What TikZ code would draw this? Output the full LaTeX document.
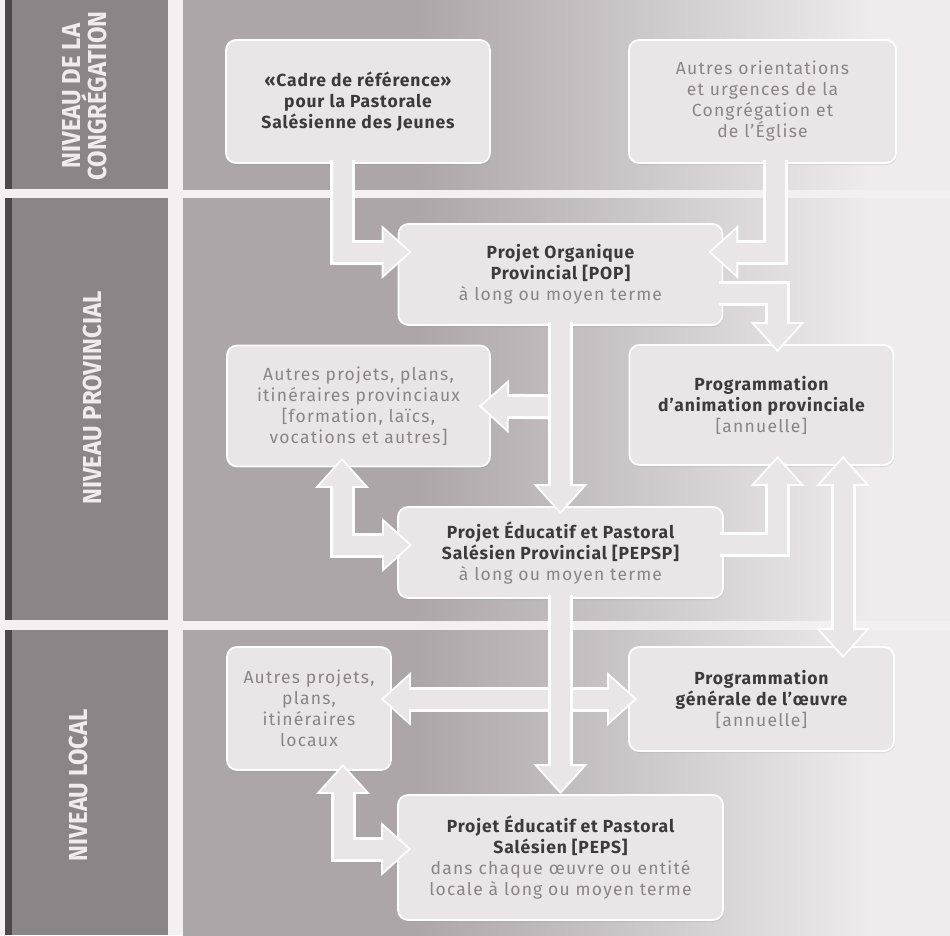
\documentclass[tikz,border=0pt]{standalone}
\usepackage{fontspec}
\setmainfont[LetterSpace=5]{Fira Sans}
\newfontfamily\sidefont[FakeStretch=0.92]{Fira Sans}
\newfontfamily\graytextfont[LetterSpace=7]{Fira Sans}
\usetikzlibrary{arrows.meta,shadows}

\definecolor{pagebg}{RGB}{244,240,241}
\definecolor{sidegray}{RGB}{139,133,135}
\definecolor{sidedark}{RGB}{78,72,74}
\definecolor{bgdark}{RGB}{172,166,168}
\definecolor{bgmid}{RGB}{205,200,201}
\definecolor{bglight}{RGB}{240,236,237}
\definecolor{boxfill}{RGB}{234,230,231}
\definecolor{titletext}{RGB}{62,58,59}
\definecolor{subtext}{RGB}{138,132,134}
\definecolor{sidetext}{RGB}{240,236,237}

\pgfdeclarehorizontalshading{bgshade}{100bp}{color(0bp)=(bgdark); color(40bp)=(bgdark); color(55bp)=(bgmid); color(70bp)=(bglight); color(100bp)=(bglight)}

\newcommand\subtxt[1]{{\graytextfont\color{subtext}#1}}

\begin{document}
\begin{tikzpicture}[x=1pt,y=-1pt]

      \tikzset{box/.style={draw=white, line width=1.8pt, fill=boxfill, rounded corners=10pt, align=center,
                 text=titletext, font=\fontsize{17.5}{21}\selectfont,
                 drop shadow={opacity=.15, shadow xshift=1pt, shadow yshift=-2pt}},
               sidelabel/.style={rotate=90, align=center, text=sidetext, font=\sidefont\bfseries\fontsize{26}{25}\selectfont},
               outtip/.tip={Triangle[length=30pt,width=54pt,line width=0pt]},
               intip/.tip={Triangle[length=25pt,width=45pt,line width=0pt]},
               flow/.style={draw=boxfill, line width=19pt, shorten >=3pt, -{intip},
                 preaction={draw=white, line width=25pt, shorten >=0pt, -{outtip}}},
               flowboth/.style={draw=boxfill, line width=19pt, shorten >=3pt, shorten <=3pt, {intip}-{intip},
                 preaction={draw=white, line width=25pt, shorten >=0pt, shorten <=0pt, {outtip}-{outtip}}}}

      \useasboundingbox (0,0) rectangle (950,935);
%% Background
      \fill[pagebg] (0,0) rectangle (950,935);
      \foreach \ya/\yb in {0/189, 198/620, 630/935} {
        \fill[sidegray] (5,\ya) rectangle (168,\yb);
        \fill[sidedark] (5,\ya) rectangle (12,\yb);
        \shade[shading=bgshade] (183,\ya) rectangle (950,\yb);
      }
%% Levels
      \node[sidelabel] (lvlcong) at (85,96) {NIVEAU DE LA\\CONGRÉGATION};
      \node[sidelabel] (lvlprov) at (92,398) {NIVEAU PROVINCIAL};
      \node[sidelabel] (lvlloc) at (78,785) {NIVEAU LOCAL};
%% Boxes
      \node[box, minimum width=264pt, minimum height=123pt] (cadre) at (358,101.5)
            {\bfseries «Cadre de référence»\\\bfseries pour la Pastorale\\\bfseries Salésienne des Jeunes};
      \node[box, minimum width=267pt, minimum height=123pt] (autor) at (762.5,101.5)
            {\subtxt{Autres orientations}\\\subtxt{et urgences de la}\\\subtxt{Congrégation et}\\\subtxt{de l’Église}};
      \node[box, minimum width=324pt, minimum height=101pt] (pop) at (560.5,274.5)
            {\bfseries Projet Organique\\\bfseries Provincial [POP]\\\subtxt{à long ou moyen terme}};
      \node[box, minimum width=263pt, minimum height=121pt] (autprov) at (358.5,406)
            {\subtxt{Autres projets, plans,}\\\subtxt{itinéraires provinciaux}\\\subtxt{[formation, laïcs,}\\\subtxt{vocations et autres]}};
      \node[box, minimum width=264pt, minimum height=120pt] (progprov) at (761.5,405)
            {\bfseries Programmation\\\bfseries d’animation provinciale\\\subtxt{[annuelle]}};
      \node[box, minimum width=325pt, minimum height=91pt] (pepsp) at (560.5,552.5)
            {\bfseries Projet Éducatif et Pastoral\\\bfseries Salésien Provincial [PEPSP]\\\subtxt{à long ou moyen terme}};
      \node[box, minimum width=164pt, minimum height=123pt] (autloc) at (309,708.5)
            {\subtxt{Autres projets,}\\\subtxt{plans,}\\\subtxt{itinéraires}\\\subtxt{locaux}};
      \node[box, minimum width=265pt, minimum height=104pt] (proggen) at (761.5,699)
            {\bfseries Programmation\\\bfseries générale de l’œuvre\\\subtxt{[annuelle]}};
      \node[box, minimum width=325pt, minimum height=125pt] (peps) at (560.5,857.5)
            {\bfseries Projet Éducatif et Pastoral\\\bfseries Salésien [PEPS]\\\subtxt{dans chaque œuvre ou entité}\\\subtxt{locale à long ou moyen terme}};
%% Arrows
      \draw[flow] ([xshift=-16pt,yshift=4pt]cadre.south) |- ([xshift=14pt,yshift=22.5pt]pop.west);
      \draw[flow] ([xshift=12.5pt,yshift=4pt]autor.south) |- ([xshift=-15pt,yshift=22.5pt]pop.east);
      \draw[flow] ([xshift=-4pt,yshift=-18.5pt]pop.east) -| ([xshift=16pt,yshift=-8pt]progprov.north);
      \draw[flow] ([yshift=-81pt]pop.south) -- ([xshift=-12pt]autprov.east);
      \draw[flow] ([yshift=4pt]pop.south) -- ([yshift=-8pt]pepsp.north);
      \draw[flowboth] ([xshift=-16.5pt,yshift=9.5pt]autprov.south) |- ([xshift=15pt,yshift=7.5pt]pepsp.west);
      \draw[flow] ([xshift=-4pt,yshift=8.5pt]pepsp.east) -| ([xshift=16pt,yshift=10pt]progprov.south);
      \draw[flowboth] ([xshift=81.5pt,yshift=10pt]progprov.south) -- ([xshift=81.5pt,yshift=-12pt]proggen.north);
      \draw[flowboth] ([xshift=-11pt,yshift=9.5pt]autloc.east) -- ([xshift=9pt]proggen.west);
      \draw[flow] ([yshift=4pt]pepsp.south) -- (peps.north);
      \draw[flowboth] ([xshift=34pt,yshift=7pt]autloc.south) |- ([xshift=14pt,yshift=8.5pt]peps.west);

\end{tikzpicture}
\end{document}
